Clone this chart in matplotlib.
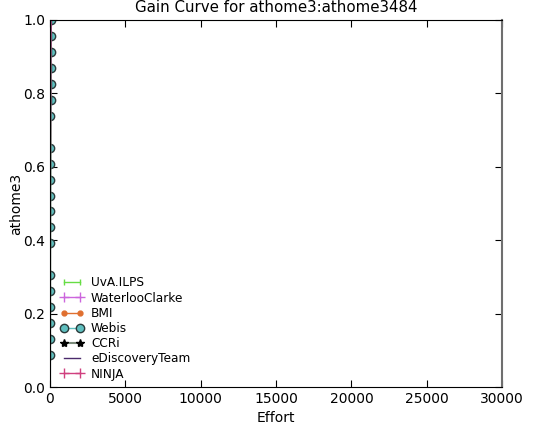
import matplotlib
matplotlib.use("Agg")
import matplotlib.pyplot as plt
import numpy as np
from matplotlib.lines import Line2D
from matplotlib.path import Path

n_rel = 23
# recall levels observed (fraction of 23 relevant docs)
webis_found = [2, 3, 4, 5, 6, 7, 9, 10, 11, 12, 13, 14, 15, 17, 18, 19, 20, 21, 22, 23]
webis_effort = [3, 5, 7, 9, 11, 13, 17, 19, 21, 23, 25, 27, 29, 33, 35, 37, 39, 41, 43, 45]

uva_effort = [0, 10, 25, 40, 60, 30000]
uva_recall = [0.0, 0.3, 0.6, 0.9, 1.0, 1.0]
waterloo_effort = [0, 8, 20, 35, 50, 30000]
waterloo_recall = [0.0, 0.3, 0.6, 0.9, 1.0, 1.0]
bmi_effort = [0, 8, 20, 35, 50, 30000]
bmi_recall = [0.0, 0.3, 0.6, 0.9, 1.0, 1.0]
ccri_effort = [0, 12, 30, 45, 70, 30000]
ccri_recall = [0.0, 0.3, 0.6, 0.9, 1.0, 1.0]
edt_effort = [0, 9, 22, 38, 55, 30000]
edt_recall = [0.0, 0.3, 0.6, 0.9, 1.0, 1.0]
ninja_effort = [0, 9, 22, 38, 55, 30000]
ninja_recall = [0.0, 0.3, 0.6, 0.9, 1.0, 1.0]

x_ticks = [0, 5000, 10000, 15000, 20000, 25000, 30000]
y_ticks = [0.0, 0.2, 0.4, 0.6, 0.8, 1.0]

fig = plt.figure(figsize=(5.47, 4.25), dpi=100)
ax = fig.add_axes([0.0914, 0.0894, 0.8266, 0.8636])

webis_recall = [f / n_rel for f in webis_found]

# right half of a circle: the part of the marker that lies inside the axes
arc = Path.arc(-90, 90)
half_circle = Path(np.vstack([arc.vertices, [[0, -1], [0, -1]]]),
                   list(arc.codes) + [Path.LINETO, Path.CLOSEPOLY])

styles = [
    ("UvA.ILPS", uva_effort, uva_recall, dict(color="#66dd44", marker="|", markersize=5, lw=1)),
    ("WaterlooClarke", waterloo_effort, waterloo_recall, dict(color="#cc66dd", marker="+", markersize=7, lw=1)),
    ("BMI", bmi_effort, bmi_recall, dict(color="#e07030", marker=".", markersize=7, lw=1)),
    ("Webis", webis_effort, webis_recall, dict(color="#5fbfbf", marker="o", markersize=6,
                                               markeredgecolor="#2a3a3a", markerfacecolor="#5fbfbf", lw=1)),
    ("CCRi", ccri_effort, ccri_recall, dict(color="#7a8a7a", marker="*", markersize=6,
                                            markerfacecolor="black", markeredgecolor="black", lw=1.5)),
    ("eDiscoveryTeam", edt_effort, edt_recall, dict(color="#4b2a6b", marker=None, lw=1)),
    ("NINJA", ninja_effort, ninja_recall, dict(color="#d0407f", marker="+", markersize=7, lw=1)),
]

handles = []
for name, xs, ys, st in styles:
    if name == "Webis":
        st_plot = dict(st)
        st_plot["marker"] = half_circle
        st_plot["markersize"] = 6
        ax.plot(xs, ys, **st_plot)
    else:
        plain = {k: v for k, v in st.items() if not k.startswith("marker")}
        ax.plot(xs, ys, **plain)
    handles.append(Line2D([], [], label=name, **st))

ax.set_xlim(0, 30000)
ax.set_ylim(0, 1.0)
ax.set_xticks(x_ticks)
ax.set_yticks(y_ticks)
ax.tick_params(direction="in", top=True, right=True, labelsize=10, length=5)
ax.spines["right"].set_color("#6f6f6f")
ax.spines["right"].set_linewidth(1.5)
ax.set_xlabel("Effort", fontsize=10)
ax.set_ylabel("athome3", fontsize=10, labelpad=0)
ax.set_title("Gain Curve for athome3:athome3484", fontsize=10.8)
ax.legend(handles=handles, loc="lower left", frameon=False, fontsize=8.7, numpoints=2,
          handlelength=1.9, handletextpad=0.6, bbox_to_anchor=(0.0, -0.012), labelspacing=0.18)

fig.savefig("out.png", dpi=100)
